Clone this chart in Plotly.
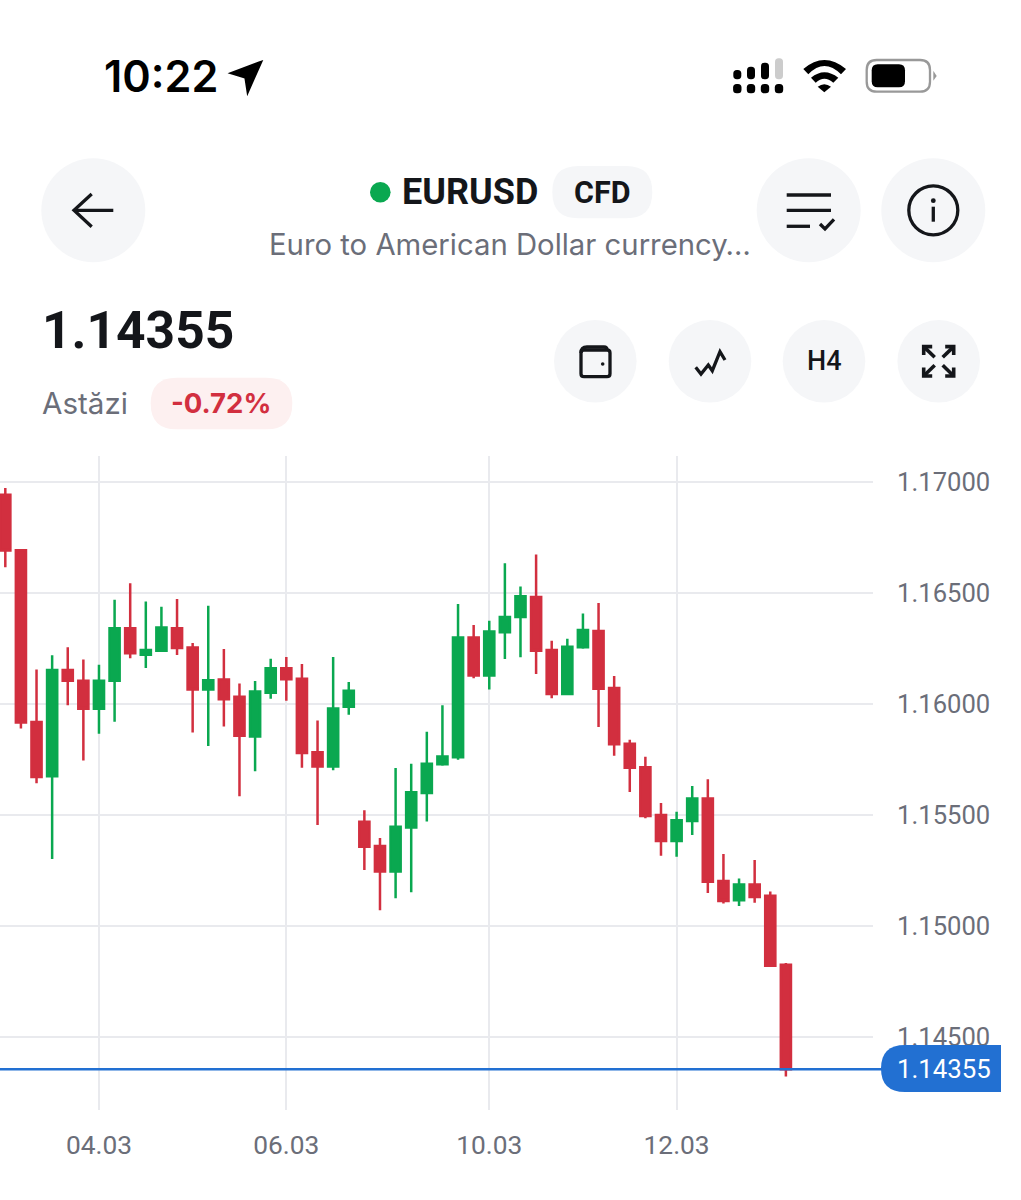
import plotly.graph_objects as go

W = 1021
H = 1200

# H4 candles
opens = [1.16943, 1.16692, 1.15919, 1.15674, 1.16153, 1.16105, 1.15979, 1.16105, 1.16341, 1.16222,
         1.16240, 1.16341, 1.16254, 1.16065, 1.16110, 1.16032, 1.15853, 1.16051, 1.16161, 1.16114,
         1.15782, 1.15718, 1.15988, 1.15470, 1.15360, 1.15245, 1.15443, 1.15599, 1.15728, 1.15760,
         1.16299, 1.16128, 1.16323, 1.16392, 1.16482, 1.16243, 1.16045, 1.16255, 1.16329, 1.16072,
         1.15821, 1.15715, 1.15500, 1.15383, 1.15473, 1.15574, 1.15202, 1.15116, 1.15187, 1.15136,
         1.14825]
highs = [1.16973, 1.16692, 1.16155, 1.16219, 1.16255, 1.16200, 1.16177, 1.16470, 1.16544, 1.16462,
         1.16438, 1.16473, 1.16275, 1.16443, 1.16248, 1.16092, 1.16104, 1.16204, 1.16212, 1.16180,
         1.15926, 1.16212, 1.16099, 1.15521, 1.15396, 1.15712, 1.15731, 1.15875, 1.15994, 1.16450,
         1.16356, 1.16375, 1.16634, 1.16529, 1.16673, 1.16285, 1.16294, 1.16407, 1.16455, 1.16126,
         1.15839, 1.15762, 1.15554, 1.15515, 1.15630, 1.15661, 1.15324, 1.15214, 1.15297, 1.15155,
         1.14833]
lows = [1.16616, 1.15889, 1.15643, 1.15302, 1.15994, 1.15745, 1.15866, 1.15920, 1.16206, 1.16162,
        1.16240, 1.16221, 1.15872, 1.15811, 1.15898, 1.15584, 1.15697, 1.16024, 1.16014, 1.15713,
        1.15455, 1.15701, 1.15952, 1.15252, 1.15071, 1.15125, 1.15152, 1.15471, 1.15722, 1.15749,
        1.16116, 1.16065, 1.16203, 1.16210, 1.16135, 1.16026, 1.16045, 1.16249, 1.15896, 1.15767,
        1.15604, 1.15485, 1.15316, 1.15312, 1.15410, 1.15149, 1.15101, 1.15090, 1.15105, 1.14815,
        1.14322]
closes = [1.16691, 1.15916, 1.15671, 1.16153, 1.16105, 1.15979, 1.16105, 1.16341, 1.16228, 1.16243,
          1.16344, 1.16252, 1.16065, 1.16107, 1.16021, 1.15857, 1.16056, 1.16161, 1.16111, 1.15779,
          1.15718, 1.15980, 1.16060, 1.15357, 1.15245, 1.15447, 1.15602, 1.15731, 1.15763, 1.16299,
          1.16128, 1.16326, 1.16392, 1.16485, 1.16240, 1.16045, 1.16258, 1.16333, 1.16069, 1.15818,
          1.15713, 1.15495, 1.15383, 1.15476, 1.15574, 1.15199, 1.15113, 1.15187, 1.15131, 1.14821,
          1.14355]
candle_pos = list(range(len(closes)))

date_pos = [6, 18, 31, 43]
date_labels = ["04.03", "06.03", "10.03", "12.03"]
price_ticks = [1.145, 1.15, 1.155, 1.16, 1.165, 1.17]

GREEN = "#0AA850"
RED = "#D22F3F"
BLUE = "#2270D2"
GRID = "#E9EAEE"
GREY_TXT = "#6B6E79"
BTN = "#F5F6F8"
INK = "#14161A"


# all ui stuff below is placed in screenshot pixels
def px(s):
    out = []
    is_x = True
    for tok in s.split():
        if tok.isalpha():
            out.append(tok)
        elif is_x:
            out.append(f"{float(tok) / W:.5f},")
            is_x = False
        else:
            out.append(f"{1 - float(tok) / H:.5f}")
            is_x = True
    return " ".join(out).replace(", ", ",")


def rrect(x0, y0, x1, y1, r):
    return px(f"M {x0 + r} {y0} L {x1 - r} {y0} Q {x1} {y0} {x1} {y0 + r} L {x1} {y1 - r} Q {x1} {y1} {x1 - r} {y1} "
              f"L {x0 + r} {y1} Q {x0} {y1} {x0} {y1 - r} L {x0} {y0 + r} Q {x0} {y0} {x0 + r} {y0} Z")


shapes = []


def fill_path(d, color, edge=0):
    shapes.append(dict(type="path", path=d, xref="paper", yref="paper", fillcolor=color,
                       line=dict(width=edge, color=color), layer="above"))


def stroke(s, color=INK, width=3.3):
    shapes.append(dict(type="path", path=px(s), xref="paper", yref="paper", line=dict(color=color, width=width), layer="above"))


def circle(cx, cy, r, fill=None, line=None, width=0):
    shapes.append(dict(type="circle", xref="paper", yref="paper", x0=(cx - r) / W, x1=(cx + r) / W,
                       y0=1 - (cy + r) / H, y1=1 - (cy - r) / H, fillcolor=fill or "rgba(0,0,0,0)",
                       line=dict(color=line or "rgba(0,0,0,0)", width=width), layer="above"))


annots = []


def label(x, y, text, size, color=INK, family="Roboto", weight=400, anchor="left"):
    annots.append(dict(x=x / W, y=1 - y / H, xref="paper", yref="paper", text=text, showarrow=False, xanchor=anchor,
                       yanchor="middle", borderpad=0, font=dict(family=family, size=size, color=color, weight=weight)))


# status bar
label(103, 76, "10:22", 43.2, "#000000", "Inter", 600)
fill_path(px("M 260 63 L 233 73 L 246 77 L 248 90 Z"), "#000000", 3.5)
for bx, top, col in [(737.3, 70, "#000000"), (751, 66.7, "#000000"), (765, 62.7, "#000000"), (779, 58.3, "#CCCCCC")]:
    fill_path(rrect(bx - 4, top, bx + 4, 79.3, 3.5), col)
    fill_path(rrect(bx - 4.2, 84, bx + 4.2, 93.3, 3.5), "#000000")
fill_path(px("M 803.3 69 Q 824.3 51 846 69 L 841 74.3 Q 824.3 57.7 808.3 74.3 Z"), "#000000")
fill_path(px("M 811 77.7 Q 824.3 66.7 838.3 77.7 L 833.3 82.7 Q 824.3 75 815.7 82.7 Z"), "#000000")
fill_path(px("M 817.7 86.7 Q 824.3 81.7 831 86.7 L 824.3 92.3 Z"), "#000000")
shapes.append(dict(type="path", path=rrect(866.7, 60, 930, 91.7, 10), xref="paper", yref="paper",
                   line=dict(color="#999999", width=2.3), layer="above"))
fill_path(rrect(871.7, 64.3, 905, 87.3, 6), "#000000")
fill_path(px("M 933.3 70.7 L 936.7 76 L 933.3 80.7 Z"), "#999999")

# header
circle(93.3, 210.3, 52, BTN)
stroke("M 74 210.3 L 113.3 210.3")
stroke("M 91.7 194 L 74 210.3 L 91.7 226.7")
circle(380.3, 192.3, 10.3, GREEN)
label(401, 192, "EURUSD", 36, INK, "Roboto", 700)
fill_path(rrect(552.3, 166, 652.3, 218.3, 26), BTN)
label(602, 192, "CFD", 30.5, INK, "Roboto", 700, "center")
label(268, 245, "Euro to American Dollar currency…", 29.3, GREY_TXT, "Inter")
circle(808.7, 210.3, 52, BTN)
stroke("M 786.7 195 L 831 195")
stroke("M 786.7 210.3 L 831 210.3")
stroke("M 786.7 226.3 L 810 226.3")
stroke("M 820 224 L 825 229 L 834 219.3")
circle(933.3, 210.3, 52, BTN)
circle(933.3, 210.3, 24.5, None, INK, 3.3)
circle(933.3, 200.7, 2.4, INK)
stroke("M 933.3 206.7 L 933.3 221.7")

# price row
label(41, 330, "1.14355", 51.5, INK, "Roboto", 700)
label(41, 403, "Astăzi", 29.6, GREY_TXT, "Inter")
fill_path(rrect(150.7, 377.7, 292.3, 429.3, 25.8), "#FDF0F0")
label(220.5, 403, "-0.72%", 27.5, RED, "Inter", 700, "center")

for cx in [595.3, 710, 824, 938.7]:
    circle(cx, 361.3, 41.3, BTN)
# wallet
shapes.append(dict(type="path", path=rrect(581, 350, 610, 376.7, 3), xref="paper", yref="paper",
                   line=dict(color=INK, width=3.3), layer="above"))
stroke("M 581 353 Q 581 347 587 347 L 604 347 Q 607 347 607 350")
circle(602.7, 364, 1.8, INK)
# line icon
stroke("M 695.7 367.3 L 701 374 L 708.3 365 L 712.3 370.7 L 720 351.7 L 725 360")
label(824, 361, "H4", 27, INK, "Roboto", 500, "center")
# expand icon
for sx, sy in [(-1, -1), (1, -1), (-1, 1), (1, 1)]:
    cx, cy = 938.7 + sx * 15, 361.3 + sy * 14.7
    stroke(f"M {cx} {cy - sy * 8.5} L {cx} {cy} L {cx - sx * 8.5} {cy}", width=3.6)
    stroke(f"M {cx} {cy} L {938.7 + sx * 4} {361.3 + sy * 4}", width=3.6)

# last price line and its pill
shapes.append(dict(type="line", xref="paper", yref="y", x0=0, x1=885 / W, y0=closes[-1], y1=closes[-1],
                   line=dict(color=BLUE, width=2.5), layer="above"))
fill_path(px("M 1001 1045 L 905 1045 Q 881 1045 881 1068.5 Q 881 1092 905 1092 L 1001 1092 Z"), BLUE)
label(943.5, 1069, f"{closes[-1]:.5f}", 25.8, "#FFFFFF", "Roboto", 400, "center")

fig = go.Figure(go.Candlestick(
    x=candle_pos, open=opens, high=highs, low=lows, close=closes,
    increasing=dict(line=dict(color=GREEN, width=2.5), fillcolor=GREEN),
    decreasing=dict(line=dict(color=RED, width=2.5), fillcolor=RED),
    whiskerwidth=0, showlegend=False,
))
fig.update_layout(
    width=W, height=H, margin=dict(l=0, r=0, t=0, b=0), autosize=False,
    paper_bgcolor="white", plot_bgcolor="white", showlegend=False,
    shapes=shapes, annotations=annots, boxgap=0.35, boxgroupgap=0,
    xaxis=dict(domain=[0, 873 / W], range=[-0.34, 55.58], type="linear", rangeslider=dict(visible=False),
               tickmode="array", tickvals=date_pos, ticktext=date_labels,
               showgrid=True, gridcolor=GRID, gridwidth=2.4, zeroline=False, showline=False,
               ticks="outside", ticklen=11, tickcolor="rgba(0,0,0,0)",
               tickfont=dict(family="Roboto", size=26.3, color=GREY_TXT)),
    yaxis=dict(domain=[1 - 1110 / H, 1 - 456 / H], range=[1.14171, 1.17117], side="right",
               tickmode="array", tickvals=price_ticks, tickformat=".5f",
               showgrid=True, gridcolor=GRID, gridwidth=2.4, zeroline=False, showline=False,
               ticks="outside", ticklen=18, tickcolor="rgba(0,0,0,0)",
               tickfont=dict(family="Roboto", size=25.6, color=GREY_TXT)),
)

fig.write_html("out.html", config=dict(displayModeBar=False),
               post_script="document.body.style.margin='0';document.body.style.overflow='hidden';")
